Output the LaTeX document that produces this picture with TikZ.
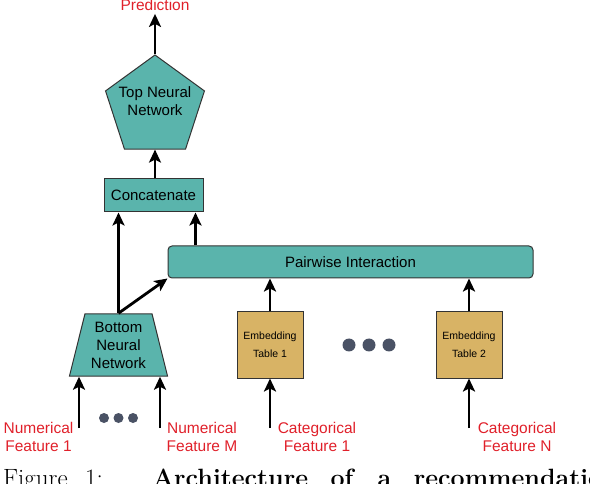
\documentclass[tikz,border=0pt]{standalone}
\usepackage{fontspec}
\setsansfont{Liberation Sans}
\usetikzlibrary{shapes,arrows.meta}
\definecolor{tealfill}{HTML}{5AB4AC}
\definecolor{tanfill}{HTML}{D8B365}
\definecolor{dotgray}{HTML}{4A5265}
\definecolor{labelred}{HTML}{E0202A}
\tikzstyle{block} = [rectangle, draw=black!80, fill=tealfill, line width=1pt,
    font=\sffamily\fontsize{15}{18}\selectfont, align=center, inner sep=0pt]
\tikzstyle{nntext} = [font=\sffamily\fontsize{15}{17.6}\selectfont, align=center, inner sep=0pt]
\tikzstyle{embed} = [rectangle, draw=black!80, fill=tanfill, line width=1pt,
    minimum width=66pt, minimum height=66pt,
    font=\sffamily\fontsize{10.5}{17.7}\selectfont, align=center, inner sep=0pt]
\tikzstyle{feature} = [text=labelred, font=\sffamily\fontsize{15.5}{18}\selectfont,
    align=center, inner sep=0pt]
\tikzstyle{ellipsis} = [circle, fill=dotgray, inner sep=0pt]
\tikzstyle{line} = [draw, line width=2.8pt, -{Stealth[length=13pt,width=12pt,inset=3pt]}]

\begin{document}
\begin{tikzpicture}[x=1pt, y=-1pt, node distance=199pt]
    \useasboundingbox (0,0) rectangle (590,484);
    % Place nodes
    \node [feature] (prediction) at (155,5) {Prediction};
    \node [block, regular polygon, regular polygon sides=5, minimum size=104pt,
        label={[nntext, yshift=6pt]center:Top Neural\\Network}] (topnn) at (155,107) {};
    \node [block, minimum width=99pt, minimum height=33pt] (concat) at (153.5,195.5) {Concatenate};
    \node [block, rounded corners=4pt, minimum width=365pt, minimum height=32pt] (pairwise) at (350.5,262) {Pairwise Interaction};
    \node [block, trapezium, trapezium left angle=76, trapezium right angle=76,
        inner xsep=6pt, inner ysep=8pt] (bottomnn) at (118.5,345) {Bottom\\Neural\\Network};
    \node [embed] (emb1) at (270,345) {Embedding\\Table 1};
    \node [embed, right of=emb1] (emb2) {Embedding\\Table 2};

    \node [feature] (num1) at (38.5,437) {Numerical\\Feature 1};
    \node [feature] (numM) at (202,437) {Numerical\\Feature M};
    \node [feature] (cat1) at (317,437) {Categorical\\Feature 1};
    \node [feature] (catN) at (517,437) {Categorical\\Feature N};

    \coordinate (in1) at (79,428);
    \coordinate (inM) at (160,428);
    \coordinate (incat1) at (270,428);
    \coordinate (incatN) at (469,428);

    \foreach \x [count=\i] in {104,118.5,133}
        \node [ellipsis, minimum size=10pt] (numdot\i) at (\x,418) {};
    \foreach \x [count=\i] in {349,369,389}
        \node [ellipsis, minimum size=13pt] (embdot\i) at (\x,345) {};

    % Draw edges
    \path [line, shorten >=3pt] (topnn) -- (prediction);
    \path [line] (topnn |- concat.north) -- (topnn);
    \path [line] (bottomnn.north) -- (bottomnn.north |- concat.south);
    \path [line] (bottomnn.north) -- (pairwise.south west);
    \path [line] ([xshift=-8pt]concat.south east |- pairwise.north) -- ([xshift=-8pt]concat.south east);
    \path [line] (emb1) -- (emb1 |- pairwise.south);
    \path [line] (emb2) -- (emb2 |- pairwise.south);
    \path [line] (in1) -- (in1 |- bottomnn.south);
    \path [line] (inM) -- (inM |- bottomnn.south);
    \path [line] (incat1) -- (emb1);
    \path [line] (incatN) -- (emb2);

    \node [anchor=base west, inner sep=0pt, font=\fontsize{25}{30}\selectfont] (caption) at (3,486)
        {Figure\hspace{0.7em}1:\hspace{2em}\textbf{Architecture}\hspace{0.9em}\textbf{of}\hspace{0.9em}\textbf{a}\hspace{0.9em}\textbf{recommendation}};
\end{tikzpicture}
\end{document}
